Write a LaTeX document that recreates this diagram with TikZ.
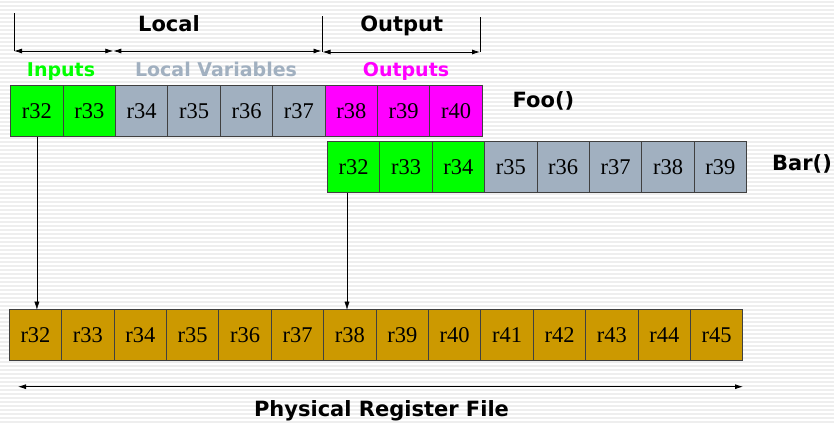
\documentclass[tikz,border=0pt]{standalone}
\usepackage{fontspec}
\setmainfont{Liberation Serif}
\newfontfamily\labelfont{DejaVu Sans}
\usetikzlibrary{positioning, arrows.meta}
\definecolor{ingreen}{RGB}{0,255,0}
\definecolor{locgray}{RGB}{161,176,192}
\definecolor{outpink}{RGB}{255,0,255}
\definecolor{physgold}{RGB}{204,153,0}
\tikzset{
  reg/.style={draw=black!75, line width=0.9pt, minimum width=52.4pt, minimum height=51pt,
    inner sep=0pt, outer sep=0pt, font=\fontsize{22.5}{22.5}\selectfont},
  inreg/.style={reg, fill=ingreen},
  locreg/.style={reg, fill=locgray},
  outreg/.style={reg, fill=outpink},
  physreg/.style={reg, fill=physgold},
  title/.style={anchor=base, inner sep=0pt, font=\labelfont\bfseries\fontsize{21}{21}\selectfont},
  group/.style={anchor=base, inner sep=0pt, font=\labelfont\bfseries\fontsize{19}{19}\selectfont},
  stripe/.style={gray!13, line width=1.5pt},
  >={Latex[length=8pt, width=5pt]}
}

\begin{document}
\begin{tikzpicture}[x=1pt, y=-1pt, node distance=52.4pt, on grid]
  \useasboundingbox (0,0) rectangle (834,423);
  \fill[white] (0,0) rectangle (834,423);
  \foreach \y in {2,6,...,422}
    \draw[stripe] (0,\y) -- (834,\y);

  \node[inreg] (f32) at (36.9,111.2) {r32};
  \node[inreg] (f33) [right=of f32] {r33};
  \node[locreg] (f34) [right=of f33] {r34};
  \node[locreg] (f35) [right=of f34] {r35};
  \node[locreg] (f36) [right=of f35] {r36};
  \node[locreg] (f37) [right=of f36] {r37};
  \node[outreg] (f38) [right=of f37] {r38};
  \node[outreg] (f39) [right=of f38] {r39};
  \node[outreg] (f40) [right=of f39] {r40};

  \node[inreg] (b32) at (353.6,167.2) {r32};
  \node[inreg] (b33) [right=of b32] {r33};
  \node[inreg] (b34) [right=of b33] {r34};
  \node[locreg] (b35) [right=of b34] {r35};
  \node[locreg] (b36) [right=of b35] {r36};
  \node[locreg] (b37) [right=of b36] {r37};
  \node[locreg] (b38) [right=of b37] {r38};
  \node[locreg] (b39) [right=of b38] {r39};

  \node[physreg] (p32) at (35.5,335.2) {r32};
  \node[physreg] (p33) [right=of p32] {r33};
  \node[physreg] (p34) [right=of p33] {r34};
  \node[physreg] (p35) [right=of p34] {r35};
  \node[physreg] (p36) [right=of p35] {r36};
  \node[physreg] (p37) [right=of p36] {r37};
  \node[physreg] (p38) [right=of p37] {r38};
  \node[physreg] (p39) [right=of p38] {r39};
  \node[physreg] (p40) [right=of p39] {r40};
  \node[physreg] (p41) [right=of p40] {r41};
  \node[physreg] (p42) [right=of p41] {r42};
  \node[physreg] (p43) [right=of p42] {r43};
  \node[physreg] (p44) [right=of p43] {r44};
  \node[physreg] (p45) [right=of p44] {r45};

  \node[title] (foo) at (543.5,107.5) {Foo()};
  \node[title] (bar) at (802,170.5) {Bar()};
  \node[title] (local) at (169,31.7) {Local};
  \node[title] (output) at (401.7,31.7) {Output};
  \node[title] (physfile) at (381.5,416.5) {Physical Register File};
  \node[group, text=ingreen] (inputs) at (61,76.7) {Inputs};
  \node[group, text=locgray] (locvars) at (216,76.7) {Local Variables};
  \node[group, text=outpink] (outputs) at (406,76.7) {Outputs};

  \coordinate (inL) at (14,51);
  \coordinate (inR) at (113.3,51);
  \coordinate (locR) at (321.5,51);
  \coordinate (outL) at (322.5,52);
  \coordinate (outR) at (480,52);
  \coordinate (physL) at (18,386.7);
  \coordinate (physR) at (743,386.7);

  \draw (inL) -- ++(0,-38);
  \draw (outL) -- ++(0,-36);
  \draw (outR) -- ++(0,-35);
  \path[<->, line width=0.8pt]
    (inL) edge (inR)
    (inR) edge (locR)
    (outL) edge (outR)
    (physL) edge (physR);
  \draw[->] (f32.south) -- (f32.south |- p32.north);
  \draw[->] ([xshift=-6.6pt]b32.south) -- ([xshift=-6.6pt]b32.south |- p38.north);
\end{tikzpicture}
\end{document}
